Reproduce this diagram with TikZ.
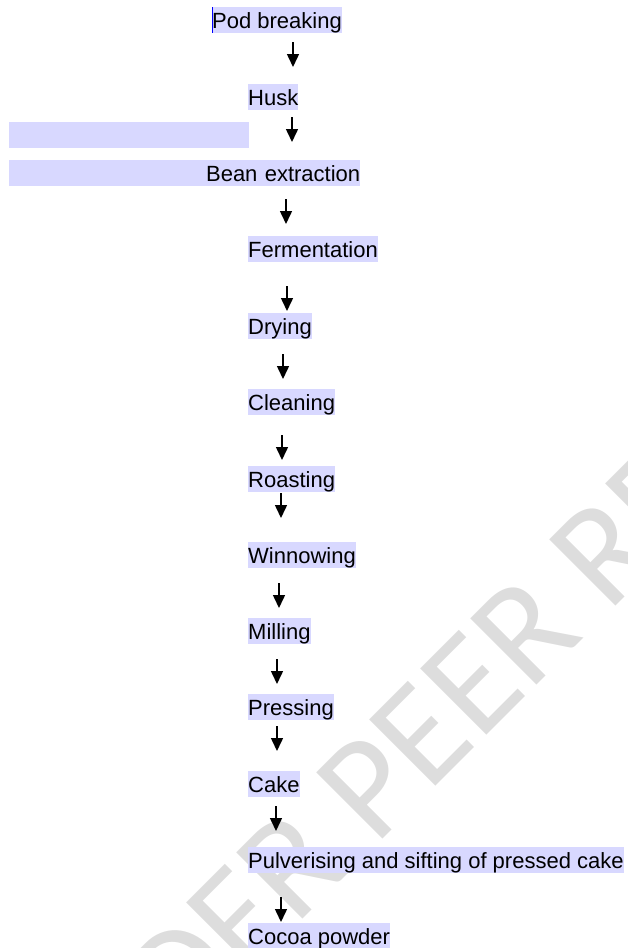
\documentclass[tikz,border=0pt]{standalone}
\usepackage{fontspec}
\setmainfont{Liberation Sans}
\newfontfamily\wmfont{Carlito}
\usetikzlibrary{arrows.meta}
\usetikzlibrary{positioning}
\definecolor{hlblue}{RGB}{216, 216, 255}
\definecolor{wmgray}{RGB}{221, 221, 221}
\tikzset{hl/.style = {fill=hlblue, anchor=north west, inner xsep=0pt, inner ysep=0pt,
                      text height=21pt, text depth=5pt,
                      font=\fontsize{22}{26}\selectfont},
         flow/.style = {-{Triangle[length=13pt, width=12pt]}, line width=1.5pt}}

\begin{document}
\begin{tikzpicture}[x=1pt, y=-1pt]
    \useasboundingbox (0, 0) rectangle (628, 948);
    % watermark behind the steps
    \node [rotate=45, anchor=base west, inner sep=0pt, text=wmgray,
           font=\wmfont\fontsize{146}{146}\selectfont] (wm) at (49, 1173) {UNDER PEER REVIEW};
    \node [hl] (pod) at (212, 7) {Pod breaking};
    \draw [blue, line width=0.8pt] (pod.north west) -- (pod.south west);
    \node [hl] (husk) at (248, 84) {Husk};
    \node [hl, minimum width=240pt] (blank) at (9, 122) {};
    \node [hl, text width=351pt, align=right] (bean) at (9, 160) {Bean extraction};
    \node [hl] (ferm) at (248, 236) {Fermentation};
    \node [hl] (dry) at (248, 313) {Drying};
    \node [hl] (clean) at (248, 389) {Cleaning};
    \node [hl] (roast) at (248, 466) {Roasting};
    \node [hl] (winnow) at (248, 542) {Winnowing};
    \node [hl] (mill) at (248, 618) {Milling};
    \node [hl] (press) at (248, 694) {Pressing};
    \node [hl] (cake) at (248, 771) {Cake};
    \node [hl] (pulv) at (248, 847) {Pulverising and sifting of pressed cake};
    \node [hl] (cocoa) at (248, 923) {Cocoa powder};
    % arrows between the steps
    \foreach \x/\y [count=\i] in {293/42, 292/117, 286/199, 287/286, 283/354, 282/435,
                                  281/493, 279/583, 277/659, 277/726, 276/806, 281/897} {
      \coordinate (a\i) at (\x, \y);
      \draw [flow] (a\i) -- ++(0, 25);
    }
\end{tikzpicture}
\end{document}
